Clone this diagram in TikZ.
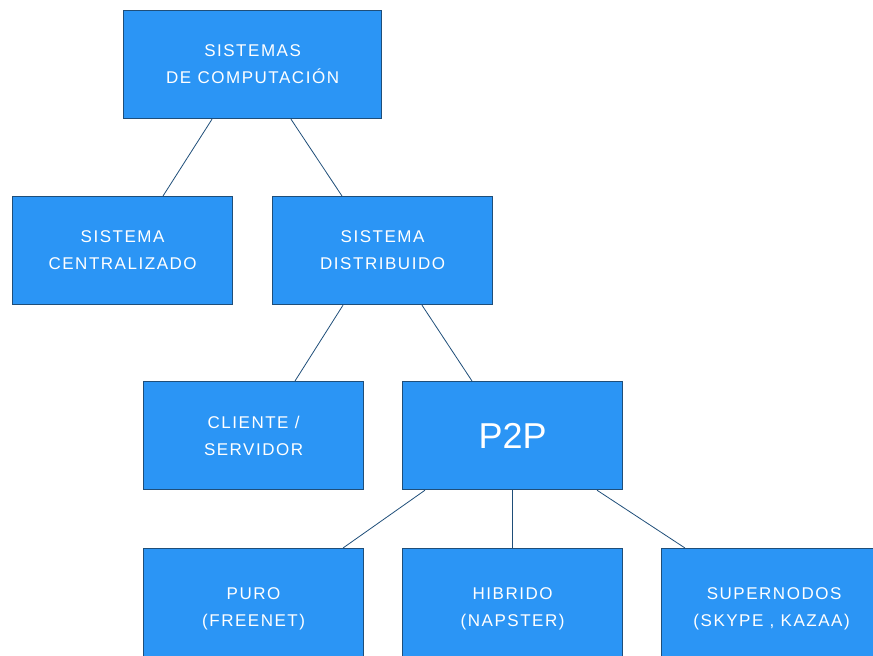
\documentclass[tikz,border=0pt]{standalone}
\usepackage{fontspec}
\setmainfont{Liberation Sans}
\newfontfamily\boxfont[LetterSpace=9]{Liberation Sans}
\definecolor{boxblue}{HTML}{2B95F5}
\definecolor{edgenavy}{HTML}{1F4E79}
\begin{document}
\begin{tikzpicture}[x=1pt,y=-1pt,
  box/.style={draw=edgenavy,line width=1.2pt,fill=boxblue,text=white,
    minimum width=220pt,minimum height=108pt,inner sep=0pt,anchor=north west,
    align=center,font=\boxfont\fontsize{17}{27}\selectfont},
  link/.style={draw=edgenavy,line width=0.8pt}]
\useasboundingbox (0,0) rectangle (873,656);
\clip (0,0) rectangle (873,656);
\node[box,minimum width=258pt] (top) at (123,10) {SISTEMAS\\DE COMPUTACIÓN};
\node[box] (cen) at (12,196) {SISTEMA\\CENTRALIZADO};
\node[box] (dis) at (272,196) {SISTEMA\\DISTRIBUIDO};
\node[box] (cli) at (143,381) {CLIENTE /\\SERVIDOR};
\node[box,font=\fontsize{36}{40}\selectfont] (p2p) at (402,381) {P2P};
\node[box,minimum height=120pt] (puro) at (143,548) {PURO\\(FREENET)};
\node[box,minimum height=120pt] (hib) at (402,548) {HIBRIDO\\(NAPSTER)};
\node[box,minimum height=120pt,minimum width=225pt] (sup) at (661,548) {SUPERNODOS\\(SKYPE , KAZAA)\hspace*{5pt}};
\draw[link] ([xshift=89pt]top.south west) -- ([xshift=151pt]cen.north west);
\draw[link] ([xshift=168pt]top.south west) -- ([xshift=70pt]dis.north west);
\draw[link] ([xshift=71pt]dis.south west) -- ([xshift=152pt]cli.north west);
\draw[link] ([xshift=150pt]dis.south west) -- ([xshift=70pt]p2p.north west);
\draw[link] ([xshift=23pt]p2p.south west) -- ([xshift=200pt]puro.north west);
\draw[link] ([xshift=110pt]p2p.south west) -- ([xshift=110pt]hib.north west);
\draw[link] ([xshift=195pt]p2p.south west) -- ([xshift=24pt]sup.north west);
\end{tikzpicture}
\end{document}
